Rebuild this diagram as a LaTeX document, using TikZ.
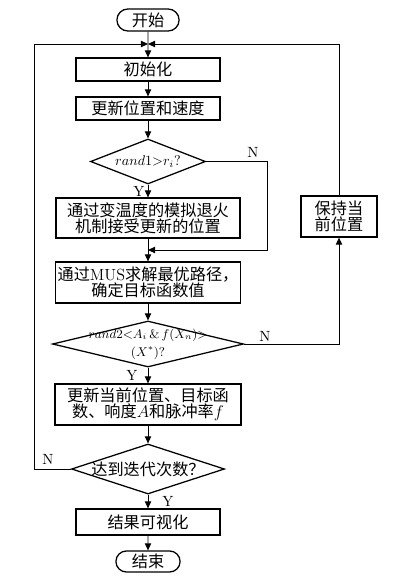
\documentclass[tikz,border=0pt]{standalone}
\usepackage{fontspec}
\usepackage{amsmath}
\usetikzlibrary{shapes.geometric,shapes.misc,arrows.meta}
\newfontfamily\cjk{Noto Sans CJK SC}

\begin{document}
\begin{tikzpicture}[x=0.025cm,y=-0.025cm,
  box/.style={draw,line width=0.9pt,inner sep=1pt,align=center,
    font=\fontsize{11.5}{11.5}\selectfont\cjk},
  term/.style={box,rounded rectangle},
  dec/.style={box,diamond,inner sep=-20pt},
  yn/.style={font=\fontsize{10.5}{12}\selectfont},
  arr/.style={line width=0.6pt,-{Triangle[length=5pt,width=4.5pt]}}]
\useasboundingbox (0,0) rectangle (400,578);

\node[term,minimum width=1.625cm,minimum height=0.55cm] (start) at (148,20) {开始};
\node[box,minimum width=3.6cm,minimum height=0.575cm] (init) at (148,69.5) {初始化};
\node[box,minimum width=3.6cm,minimum height=0.575cm] (upd) at (148,108.5) {更新位置和速度};
\node[dec,minimum width=2.875cm,minimum height=1.125cm,font=\fontsize{10}{12}\selectfont] (d1) at (148,161.5) {$rand1{>}r_i?$};
\node[box,minimum width=4.6cm,minimum height=1cm] (sa) at (148,218) {通过变温度的模拟退火\\机制接受更新的位置};
\node[box,minimum width=4.625cm,minimum height=1.025cm] (mus) at (148,282.5) {通过{\rmfamily MUS}求解最优路径，\\确定目标函数值};
\node[dec,minimum width=4.775cm,minimum height=1.15cm,font=\fontsize{9}{13}\selectfont] (d2) at (148,344) {$rand2{<}A_i\,\&\,f(X_n){>}$\\$(X^*)?$};
\node[box,minimum width=4.65cm,minimum height=1.025cm] (upd2) at (148,404.5) {更新当前位置、目标函\\数、响度$A$和脉冲率$f$};
\node[dec,minimum width=3.825cm,minimum height=1.25cm] (d3) at (148,469) {达到迭代次数？};
\node[box,minimum width=3.6cm,minimum height=0.65cm] (vis) at (148,522) {结果可视化};
\node[term,minimum width=1.675cm,minimum height=0.525cm] (end) at (148,561.5) {结束};
\node[box,minimum width=1.9cm,minimum height=1.025cm] (keep) at (339,216.5) {保持当\\前位置};

\coordinate (m) at (148,44);
\coordinate (j1) at (148,250);

\node[yn] (n1) at (253,152) {N};
\node[yn] (y1) at (139,191) {Y};
\node[yn] (n2) at (265,336) {N};
\node[yn] (y2) at (132,375) {Y};
\node[yn] (n3) at (48,459) {N};
\node[yn] (y3) at (168,501) {Y};

\draw[arr] (start) -- (init);
\draw[arr] (init) -- (upd);
\draw[arr] (upd) -- (d1);
\draw[arr] (d1) -- (sa);
\draw[arr] (d1.east) -- ++(61.5,0) |- (j1);
\draw[arr] (sa) -- (mus);
\draw[arr] (mus) -- (d2);
\draw[arr] (d2) -- (upd2);
\draw[arr] (d2.east) -| (keep.south);
\draw[arr] (keep.north) |- (m);
\draw[arr] (upd2) -- (d3);
\draw[arr] (d3.west) -- ++(-36,0) |- (m);
\draw[arr] (d3) -- (vis);
\draw[arr] (vis) -- (end);

\end{tikzpicture}
\end{document}
